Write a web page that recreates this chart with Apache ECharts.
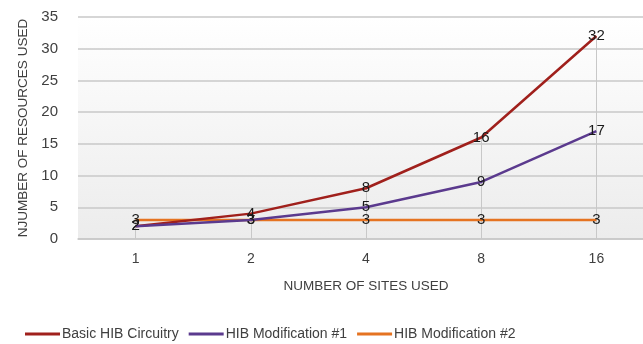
<!DOCTYPE html>
<html><head><meta charset="utf-8">
<script src="https://cdn.jsdelivr.net/npm/echarts@6/dist/echarts.min.js"></script>
<style>html,body{margin:0;padding:0;background:#fff;overflow:hidden}#c{width:654px;height:344px}</style>
</head><body><div id="c"></div>
<script>
const categories = ['1', '2', '4', '8', '16'];
const basicHIB = [2, 4, 8, 16, 32];
const hibMod1 = [2, 3, 5, 9, 17];
const hibMod2 = [3, 3, 3, 3, 3];
const yTicks = { min: 0, max: 35, interval: 5 };
const seriesNames = ['Basic HIB Circuitry', 'HIB Modification #1', 'HIB Modification #2'];
const colors = ['#A0201C', '#5B3A8E', '#E57321'];

const font = 'Liberation Sans, Arial, sans-serif';
const chart = echarts.init(document.getElementById('c'));

const maxPerCat = categories.map((c, i) => Math.max(basicHIB[i], hibMod1[i], hibMod2[i]));
const dropLines = categories.map((c, i) => [{ coord: [c, 0] }, { coord: [c, maxPerCat[i]] }]);

function mkSeries(name, data, color, z, extra) {
  return Object.assign({
    name, type: 'line', data, z,
    symbol: 'circle', symbolSize: 0, showSymbol: true,
    lineStyle: { color, width: 2.5 },
    itemStyle: { color },
    label: { show: true, position: 'inside', color: '#1a1a1a', fontSize: 15, fontFamily: font },
    emphasis: { disabled: true },
    animation: false
  }, extra || {});
}

chart.setOption({
  animation: false,
  graphic: [{
    type: 'rect', z: -10,
    shape: { x: 78, y: 17, width: 576, height: 222 },
    style: { fill: new echarts.graphic.LinearGradient(0, 0, 0, 1, [
      { offset: 0, color: '#ffffff' }, { offset: 1, color: '#ececec' }]) },
    silent: true
  }],
  grid: { left: 78, right: 0, top: 17, bottom: 105, containLabel: false },
  legend: {
    left: 20, top: 322, itemWidth: 35, itemHeight: 3, itemGap: 10,
    icon: 'rect',
    textStyle: { fontFamily: font, fontSize: 14, color: '#404040', padding: [0, 0, 0, -3] },
    data: seriesNames
  },
  xAxis: {
    type: 'category', data: categories, boundaryGap: true,
    axisLine: { lineStyle: { color: '#c8c8c8', width: 1.5 } },
    axisTick: { show: false },
    axisLabel: { color: '#404040', fontSize: 14, fontFamily: font, margin: 13 },
    name: 'NUMBER OF SITES USED', nameLocation: 'middle', nameGap: 40,
    nameTextStyle: { color: '#404040', fontSize: 13.5, fontFamily: font },
    splitLine: { show: false }
  },
  yAxis: {
    type: 'value', min: yTicks.min, max: yTicks.max, interval: yTicks.interval,
    axisLine: { show: false }, axisTick: { show: false },
    axisLabel: { color: '#404040', fontSize: 15, fontFamily: font, margin: 20 },
    splitLine: { lineStyle: { color: '#c8c8c8', width: 1.5 } },
    name: 'NJUMBER OF RESOURCES USED', nameLocation: 'middle', nameGap: 48,
    nameTextStyle: { color: '#404040', fontSize: 13.5, fontFamily: font }
  },
  series: [
    mkSeries(seriesNames[0], basicHIB, colors[0], 3, {
      markLine: {
        silent: true, symbol: 'none', label: { show: false },
        lineStyle: { color: '#c8c8c8', width: 1, type: 'solid' },
        data: dropLines, z: 1
      }
    }),
    mkSeries(seriesNames[1], hibMod1, colors[1], 4),
    mkSeries(seriesNames[2], hibMod2, colors[2], 2)
  ]
});
</script></body></html>
